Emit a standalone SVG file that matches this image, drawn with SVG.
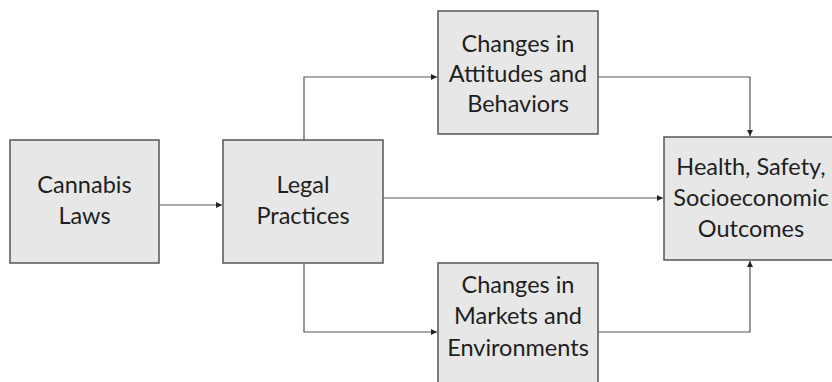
<svg xmlns="http://www.w3.org/2000/svg" width="832" height="382" viewBox="0 0 832 382">
<style>
.box{fill:#e7e7e7;stroke:#555;stroke-width:1.5}
.t{font-family:Lato,"Open Sans","Liberation Sans",sans-serif;font-size:23.5px;fill:#1e1e1e;text-anchor:middle}
.c{fill:none;stroke:#555;stroke-width:1.2}
</style>
<defs>
<marker id="ah" markerWidth="6" markerHeight="6" refX="6" refY="3" orient="auto" markerUnits="userSpaceOnUse">
<path d="M0,0 L6,3 L0,6 Z" fill="#222"/>
</marker>
</defs>
<rect width="832" height="382" fill="#fff"/>
<g id="connectors">
<path class="c" d="M159,205 H222" marker-end="url(#ah)"/>
<path class="c" d="M304,140 V77 H437" marker-end="url(#ah)"/>
<path class="c" d="M304,263 V332 H437" marker-end="url(#ah)"/>
<path class="c" d="M383,198 H663" marker-end="url(#ah)"/>
<path class="c" d="M598,77 H750 V136" marker-end="url(#ah)"/>
<path class="c" d="M598,332 H750 V261" marker-end="url(#ah)"/>
</g>
<g id="cannabis">
<rect class="box" x="10" y="140" width="149" height="123"/>
<text class="t" x="84.5" y="193">Cannabis</text>
<text class="t" x="84.5" y="224">Laws</text>
</g>
<g id="legal">
<rect class="box" x="223" y="140" width="160" height="123"/>
<text class="t" x="303" y="193">Legal</text>
<text class="t" x="303" y="224">Practices</text>
</g>
<g id="attitudes">
<rect class="box" x="438" y="11" width="160" height="123"/>
<text class="t" x="518" y="52">Changes in</text>
<text class="t" x="518" y="82">Attitudes and</text>
<text class="t" x="518" y="112">Behaviors</text>
</g>
<g id="markets">
<rect class="box" x="438" y="263" width="160" height="125"/>
<text class="t" x="518" y="293">Changes in</text>
<text class="t" x="518" y="324">Markets and</text>
<text class="t" x="518" y="356">Environments</text>
</g>
<g id="health">
<rect class="box" x="664" y="137" width="180" height="123"/>
<text class="t" x="751" y="175">Health, Safety,</text>
<text class="t" x="751" y="206">Socioeconomic</text>
<text class="t" x="751" y="237">Outcomes</text>
</g>
</svg>
